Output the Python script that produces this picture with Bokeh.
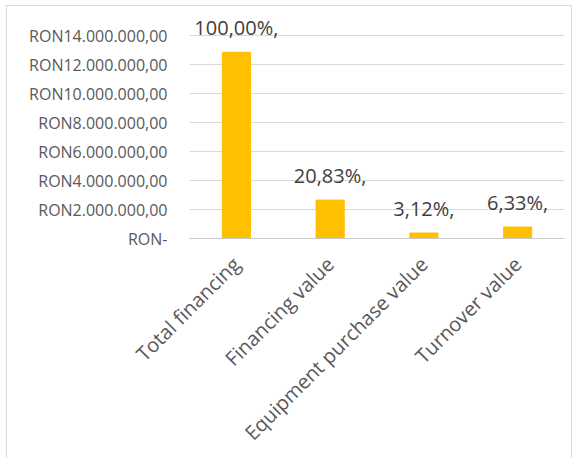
from math import pi
from bokeh.plotting import figure
from bokeh.models import ColumnDataSource, Range1d, FixedTicker, LabelSet
from bokeh.core.properties import value
from bokeh.embed import file_html
from bokeh.resources import INLINE

categories = ["Total financing", "Financing value", "Equipment purchase value", "Turnover value"]
values = [12840000, 2650000, 380000, 790000]
pct_labels = ["100,00%,", "20,83%,", "3,12%,", "6,33%,"]
y_ticks = [0, 2000000, 4000000, 6000000, 8000000, 10000000, 12000000, 14000000]
y_tick_labels = ["RON-", "RON2.000.000,00", "RON4.000.000,00", "RON6.000.000,00",
                 "RON8.000.000,00", "RON10.000.000,00", "RON12.000.000,00", "RON14.000.000,00"]

FONT = "Open Sans"
TXT = "#595959"

src = ColumnDataSource(dict(cat=categories, val=values, lab=pct_labels))

p = figure(x_range=categories, width=566, height=453, output_backend="svg",
           toolbar_location=None, min_border_left=182, min_border_right=9,
           min_border_top=0, min_border_bottom=221)
p.styles = {"border-top": "1px solid #d9d9d9", "border-left": "1px solid #d9d9d9",
            "border-right": "1px solid #d9d9d9", "margin-left": "6px", "margin-top": "5px",
            "margin-bottom": "-8px"}
p.y_range = Range1d(0, 16000000)
p.outline_line_color = None
p.background_fill_color = "white"
p.border_fill_color = "white"

p.vbar(x="cat", top="val", width=0.30, source=src, color="#FFC000")

p.add_layout(LabelSet(x="cat", y="val", text="lab", source=src, text_align="center",
                      text_baseline="alphabetic", y_offset=17, text_font=value(FONT),
                      text_font_size="20px", text_color="#404040"))

p.yaxis.ticker = FixedTicker(ticks=y_ticks)
p.yaxis.major_label_overrides = {t: l for t, l in zip(y_ticks, y_tick_labels)}
p.yaxis.axis_line_color = None
p.yaxis.major_tick_line_color = None
p.yaxis.minor_tick_line_color = None
p.yaxis.major_label_standoff = 16
p.yaxis.major_label_text_font = FONT
p.yaxis.major_label_text_font_size = "16px"
p.yaxis.major_label_text_color = TXT

p.xaxis.axis_line_color = "#c8c8c8"
p.xaxis.major_tick_line_color = None
p.xaxis.minor_tick_line_color = None
p.xaxis.major_label_orientation = pi / 4
p.xaxis.major_label_standoff = 16
p.xaxis.major_label_text_font = FONT
p.xaxis.major_label_text_font_size = "20px"
p.xaxis.major_label_text_color = TXT

p.xgrid.grid_line_color = None
p.ygrid.grid_line_color = "#d9d9d9"
p.ygrid.ticker = FixedTicker(ticks=y_ticks)

open("out.html", "w").write(file_html(p, INLINE))
